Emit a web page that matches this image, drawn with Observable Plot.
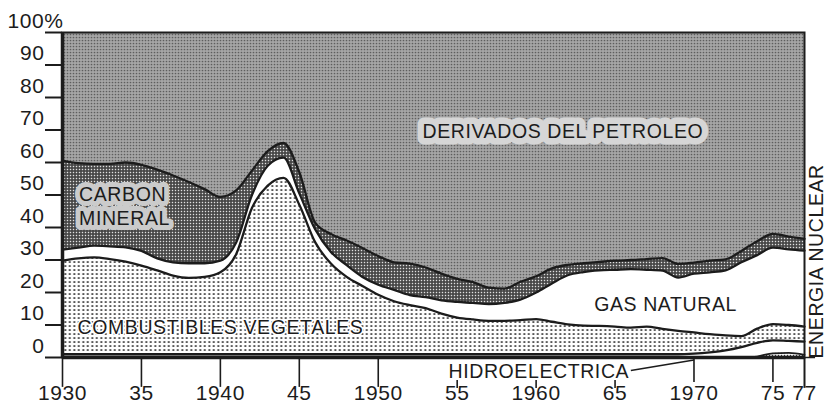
<!DOCTYPE html>
<html>
<head>
<meta charset="utf-8">
<script src="https://cdn.jsdelivr.net/npm/d3@7"></script>
<script src="https://cdn.jsdelivr.net/npm/@observablehq/plot@0.6"></script>
<style>
html, body { margin: 0; padding: 0; background: #fff; overflow: hidden; }
#defs { position: absolute; left: 0; top: 0; width: 0; height: 0; }
#chart svg text { letter-spacing: 0.6px; }
</style>
</head>
<body>
<svg id="defs" width="0" height="0">
  <defs>
    <pattern id="pPet" width="3" height="3" patternUnits="userSpaceOnUse">
      <rect width="3" height="3" fill="#a6a6a6"/>
      <circle cx="1.5" cy="1.5" r="0.85" fill="#5e5e5e"/>
    </pattern>
    <pattern id="pCar" width="3" height="3" patternUnits="userSpaceOnUse">
      <rect width="3" height="3" fill="#424242"/>
      <rect x="0.8" y="0.8" width="1.4" height="1.4" fill="#e0e0e0"/>
    </pattern>
    <pattern id="pVeg" width="4.5" height="4" patternUnits="userSpaceOnUse">
      <rect width="4.5" height="4" fill="#ffffff"/>
      <rect x="1.4" y="1.2" width="1.8" height="1.7" fill="#2a2a2a"/>
    </pattern>
    <pattern id="pNuc" width="3" height="3" patternUnits="userSpaceOnUse">
      <rect width="3" height="3" fill="#ffffff"/>
      <rect x="0.8" y="0.8" width="1.4" height="1.4" fill="#333"/>
    </pattern>
  </defs>
</svg>
<div id="chart"></div>
<script>
// ---- data (shares of total energy, %) ----
const years = [1930,1931,1932,1933,1934,1935,1936,1937,1938,1939,
               1940,1941,1942,1943,1944,1945,1946,1947,1948,1949,
               1950,1951,1952,1953,1954,1955,1956,1957,1958,1959,
               1960,1961,1962,1963,1964,1965,1966,1967,1968,1969,
               1970,1971,1972,1973,1974,1975,1976,1977];
const nuclear   = [0,0,0,0,0,0,0,0,0,0, 0,0,0,0,0,0,0,0,0,0, 0,0,0,0,0,0,0,0,0,0, 0,0,0,0,0,0,0,0,0,0, 0,0,0,0,0.3,1.3,1.4,0.8];
const hidro     = [1,1,1,1,1,1,1,1,1,1, 1,1,1,1,1,1,1,1,1,1, 1,1,1,1,1,1,1,1,1,1, 1,1,1,1,1,1,1,1,1,1, 1.2,1.6,2.2,3.2,4.2,4.0,3.7,4.1];
const vegetales = [28.8,29.5,29.8,29.3,28.5,27.3,25.8,24.2,23.5,23.8,
                   25.2,30.8,45.0,51.9,54.3,46.0,34.5,27.9,23.8,21.0,
                   18.3,16.3,15.1,14.2,12.5,11.3,10.7,10.3,10.3,10.5,
                   10.8,10.0,9.2,8.8,8.7,8.5,8.2,8.5,7.8,7.2,
                   6.5,5.6,4.6,3.4,4.4,5.0,4.9,4.6];
const gas       = [3.4,3.3,3.6,3.9,4.4,4.5,3.7,4.1,4.5,4.2,
                   3.6,3.6,4.0,6.1,6.2,3.5,4.0,3.6,3.6,2.8,
                   3.1,3.5,3.1,3.4,4.1,4.8,5.1,5.1,5.5,6.3,
                   8.2,11.8,15.1,16.5,17.1,17.5,18.0,17.5,17.9,16.4,
                   18.1,19.0,20.0,22.7,22.6,23.5,23.3,23.4];
const carbon    = [27.4,26.0,25.2,25.4,26.1,26.5,27.3,26.7,25.0,22.8,
                   19.6,16.0,7.5,4.5,4.5,6.5,2.0,5.5,7.6,8.9,
                   8.8,8.5,9.7,9.1,8.2,7.1,6.4,5.1,4.4,5.5,
                   5.0,4.6,3.2,2.7,2.6,2.8,2.8,3.3,3.9,4.2,
                   3.4,3.6,3.4,3.5,4.3,4.2,3.9,3.6];
const petroleo  = [39.4,40.2,40.4,40.4,40.0,40.7,42.2,44.0,46.0,48.2,
                   50.6,48.6,42.5,36.5,34.0,43.0,58.5,62.0,64.0,66.3,
                   68.8,70.7,71.1,72.3,74.2,75.8,76.8,78.5,78.8,76.7,
                   75.0,72.6,71.5,71.0,70.6,70.2,70.0,69.7,69.4,71.2,
                   70.8,70.2,69.8,67.2,64.2,62.0,62.8,63.5];

const seriesOrder = ["nuclear","hidro","vegetales","gas","carbon","petroleo"];
const seriesValues = {nuclear, hidro, vegetales, gas, carbon, petroleo};
const seriesFill = {nuclear: "url(#pNuc)", hidro: "#ffffff", vegetales: "url(#pVeg)",
                    gas: "#ffffff", carbon: "url(#pCar)", petroleo: "url(#pPet)"};

const yTicks = [0,10,20,30,40,50,60,70,80,90];
const yTopTick = [100];
const xTicks = [1930,1935,1940,1945,1950,1955,1960,1965,1970,1975,1977];
const xTickLabels = ["1930","35","1940","45","1950","55","1960","65","1970","75","77"];
const xTicksLong = [1930,1935,1940,1945,1950];
const xTicksShort = [1955,1960,1965];
const xTicksMid = [1970,1975];
const xTicksEnd = [1977];

// area labels
const labels = [
  {text: "DERIVADOS DEL PETROLEO", year: 1952.8, value: 70, anchor: "start", halo: "#d6d6d6", hw: 13},
  {text: "CARBON\nMINERAL", year: 1931.05, value: 46.8, anchor: "start", halo: "#cbcbcb", hw: 10},
  {text: "COMBUSTIBLES VEGETALES", year: 1930.95, value: 9.6, anchor: "start", halo: "#ffffff", hw: 3},
  {text: "GAS NATURAL", year: 1968.2, value: 16.7, anchor: "middle", halo: "#ffffff", hw: 0}
];
const hidroLabel = [{text: "HIDROELECTRICA", year: 1954.45, value: -4.5}];
const hidroLeader = [{x1: 1966.0, y1: -4.0, x2: 1970.0, y2: -0.8}];
const nuclearLabel = ["ENERGIA NUCLEAR"];

// ---- build stacked table ----
const rows = [];
years.forEach((yr, i) => {
  let acc = 0;
  for (const s of seriesOrder) {
    const v = seriesValues[s][i];
    rows.push({year: yr, series: s, y1: acc, y2: acc + v});
    acc += v;
  }
});

const curve = "monotone-x";
const ink = "#1c1c1c";
const font = "'Liberation Sans', Arial, Helvetica, sans-serif";
// tick length of the y axis, in years (x: 15.79 px per year)
const yTickLen = 17 / 15.787;

const marks = [];
for (const s of seriesOrder) {
  marks.push(Plot.areaY(rows.filter(d => d.series === s),
    {x: "year", y1: "y1", y2: "y2", fill: seriesFill[s], curve}));
}
// boundary lines
for (const s of ["hidro","vegetales","gas","carbon"]) {
  marks.push(Plot.lineY(rows.filter(d => d.series === s),
    {x: "year", y: "y2", stroke: ink, strokeWidth: 2.3, curve}));
}
marks.push(Plot.lineY(rows.filter(d => d.series === "nuclear" && d.year >= 1973),
  {x: "year", y: "y2", stroke: ink, strokeWidth: 1.8, curve}));

// frame
marks.push(Plot.frame({stroke: ink, strokeWidth: 2}));
marks.push(Plot.ruleX([1930], {stroke: ink, strokeWidth: 3.5}));
marks.push(Plot.ruleY([0], {stroke: ink, strokeWidth: 3.5}));

// tick marks
marks.push(Plot.ruleY(yTicks.concat(yTopTick), {y: d => d, x1: 1930 - yTickLen, x2: 1930, stroke: ink, strokeWidth: 2}));
marks.push(Plot.ruleX(xTicksLong, {x: d => d, y1: 0, y2: -9.2, stroke: ink, strokeWidth: 1.6}));
marks.push(Plot.ruleX(xTicksMid, {x: d => d, y1: 0, y2: -7.7, stroke: ink, strokeWidth: 1.6}));
marks.push(Plot.ruleX(xTicksEnd, {x: d => d, y1: 0, y2: -9.5, stroke: ink, strokeWidth: 2}));
marks.push(Plot.ruleX(xTicksShort, {x: d => d, y1: -7.1, y2: -9.5, stroke: ink, strokeWidth: 1.6}));

// tick labels
marks.push(Plot.text(yTicks, {y: d => d, text: d => String(d), frameAnchor: "left", dx: -18, dy: -11.5,
  textAnchor: "end", fontSize: 21, fill: ink}));
marks.push(Plot.text(yTopTick, {y: d => d, text: d => d + "%", frameAnchor: "left", dx: 1, dy: -11.5,
  textAnchor: "end", fontSize: 21, fill: ink}));
marks.push(Plot.text(xTicks, {x: d => d, text: (d, i) => xTickLabels[i], frameAnchor: "bottom", dy: 42,
  textAnchor: "middle", fontSize: 21, fill: ink}));

// area labels
for (const L of labels) {
  marks.push(Plot.text([L], {x: "year", y: "value", text: "text", textAnchor: L.anchor, fontSize: 19.5,
    lineHeight: 1.2, fill: ink,
    stroke: L.hw ? L.halo : undefined, strokeWidth: L.hw || undefined, strokeLinejoin: "round", paintOrder: "stroke"}));
}
marks.push(Plot.text(hidroLabel, {x: "year", y: "value", text: "text", textAnchor: "start", fontSize: 19.5, fill: ink}));
marks.push(Plot.link(hidroLeader, {x1: "x1", y1: "y1", x2: "x2", y2: "y2", stroke: ink, strokeWidth: 1.5}));
marks.push(Plot.text(nuclearLabel, {frameAnchor: "bottom-right", text: d => d, rotate: -90, dx: 18, dy: 1,
  textAnchor: "start", fontSize: 19.5, fill: ink}));
marks.push(Plot.ruleY([0], {x1: 1977, x2: 1977.7, stroke: ink, strokeWidth: 1.5}));

const chart = Plot.plot({
  width: 834,
  height: 409,
  marginLeft: 62,
  marginRight: 30,
  marginTop: 32,
  marginBottom: 52,
  x: {domain: [1930, 1977], axis: null},
  y: {domain: [0, 100], axis: null},
  style: {fontFamily: font, background: "#ffffff", overflow: "visible", color: ink},
  marks
});
document.getElementById("chart").appendChild(chart);
</script>
</body>
</html>
